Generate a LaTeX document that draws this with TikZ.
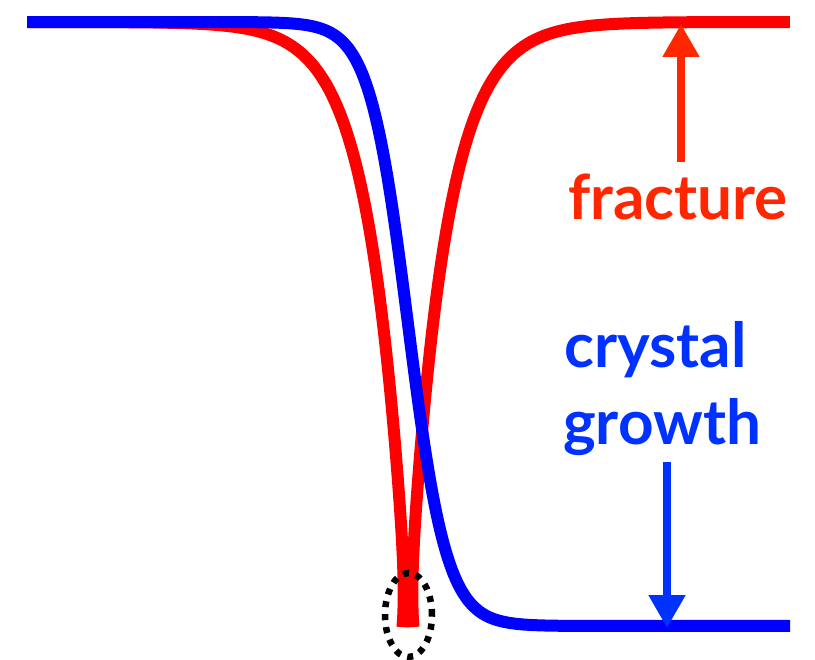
\documentclass[tikz,border=0pt]{standalone}
\usepackage{fontspec}
\setmainfont{Lato}
\usetikzlibrary{arrows.meta,shapes.geometric}
\definecolor{curvered}{RGB}{255,0,0}
\definecolor{curveblue}{RGB}{0,0,255}
\definecolor{labelred}{RGB}{255,38,0}
\definecolor{labelblue}{RGB}{0,50,255}
\begin{document}
\begin{tikzpicture}[x=1pt,y=-1pt,
  declare function={fl(\t)=exp(max(-9,-(408-\t)/36)); fr(\t)=exp(max(-9,-(\t-408)/36));},
  curve/.style={line width=12pt, line cap=butt, line join=round},
  lbl/.style={font=\bfseries\fontsize{62}{74}\selectfont, inner sep=0pt, anchor=base west},
  arr/.style={line width=8pt, -{Triangle[width=35pt,length=33pt]}},
  marker/.style={draw=black, ellipse, line width=6.5pt, dash pattern=on 6pt off 7pt, minimum width=47pt, minimum height=84pt, inner sep=0pt}]
\useasboundingbox (0,0) rectangle (815,660);
% fracture curve (red): exponential cusp, arms slightly apart at the bottom
\draw[curve, curvered] plot[domain=30:408, samples=500]
  ({\x-5.5*fl(\x)^16}, {22+605*fl(\x)});
\draw[curve, curvered] plot[domain=408:790, samples=500]
  ({\x+5.5*fr(\x)^16}, {22+605*fr(\x)});
% crystal growth curve (blue): logistic step
\draw[curve, curveblue] plot[domain=27:790, samples=400]
  (\x, {22+604/(1+exp(max(-9,min(9,-(\x-408)/19.3))))});
% marker ellipse
\node[marker] (cusp) at (408.5,615) {};
% labels
\node[lbl, labelred] (frac) at (568,220) {fracture};
\node[lbl, labelblue] (cry) at (564,368) {crystal};
\node[lbl, labelblue] (grow) at (563,445) {growth};
% arrows
\coordinate (fracfrom) at (681,162);
\coordinate (fracto) at (681,24);
\coordinate (growfrom) at (667,462);
\coordinate (growto) at (667,628);
\draw[arr, labelred] (fracfrom) -- (fracto);
\draw[arr, labelblue] (growfrom) -- (growto);
\end{tikzpicture}
\end{document}
